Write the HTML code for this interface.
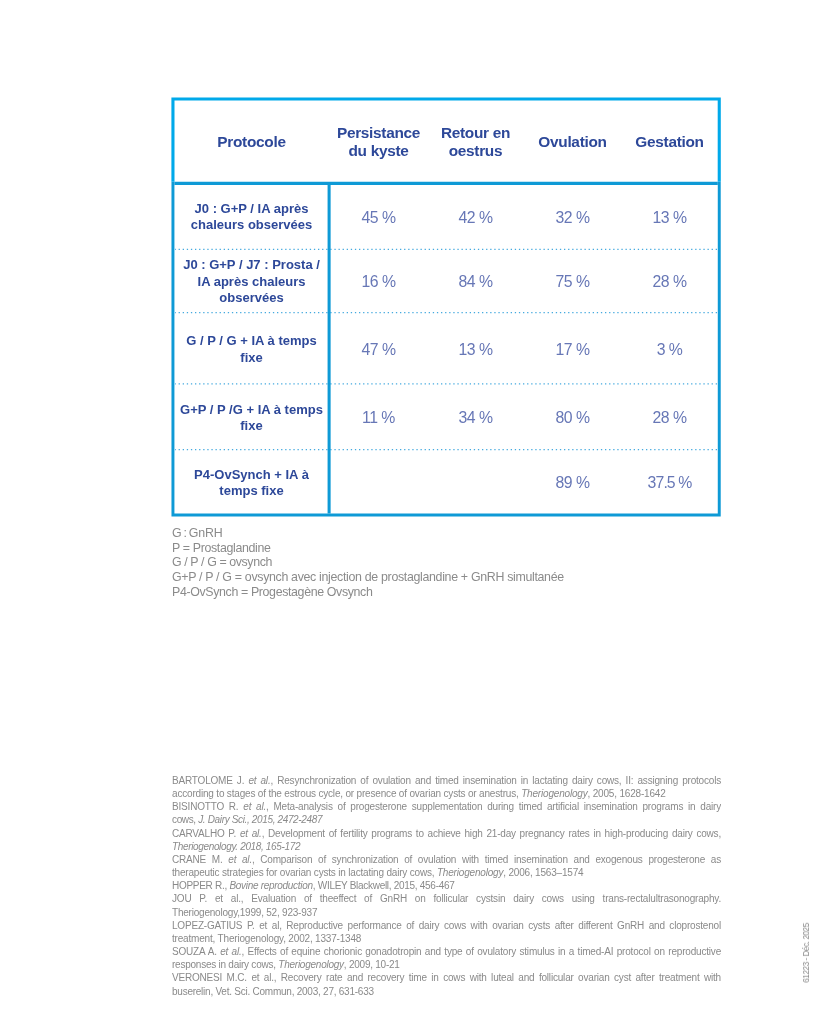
<!DOCTYPE html>
<html><head><meta charset="utf-8">
<style>
html,body{margin:0;padding:0;background:#fff;}
body{width:819px;height:1024px;position:relative;overflow:hidden;font-family:"Liberation Sans",sans-serif;}
.c,.leg,.refs,.side{will-change:transform;}
svg.lines{position:absolute;left:0;top:0;}
.c{position:absolute;display:flex;align-items:center;justify-content:center;text-align:center;}
.h{color:#2d4899;font-weight:bold;font-size:15.4px;line-height:17.5px;letter-spacing:-0.3px;}
.p{color:#2d4899;font-weight:bold;font-size:13px;line-height:16.5px;}
.v{color:#6777b6;font-size:15.8px;letter-spacing:-0.5px;padding-top:2.4px;box-sizing:border-box;}
.leg{position:absolute;left:171.5px;top:526.4px;color:#8b8b8b;font-size:12.4px;line-height:14.7px;white-space:nowrap;}
.refs{position:absolute;left:172px;top:774.2px;width:549px;color:#8a8a8a;font-size:10px;line-height:13.17px;letter-spacing:-0.19px;}
.refs div{white-space:nowrap;}
.refs .j{text-align:justify;text-align-last:justify;white-space:normal;height:13.17px;overflow:hidden;}
.refs i{font-style:italic;}
.side{position:absolute;left:806px;top:953.3px;transform:translate(-50%,-50%) rotate(-90deg);color:#8d8d8d;font-size:8.4px;letter-spacing:-0.55px;white-space:nowrap;}
</style></head><body>
<svg class="lines" width="819" height="1024" viewBox="0 0 819 1024">
  <!-- dotted row separators -->
  <g stroke="#45aadf" stroke-width="1.2" stroke-dasharray="1.3 2.8" stroke-dashoffset="0.5">
    <line x1="175" y1="249.3" x2="718" y2="249.3"/>
    <line x1="175" y1="312.6" x2="718" y2="312.6"/>
    <line x1="175" y1="383.9" x2="718" y2="383.9"/>
    <line x1="175" y1="449.7" x2="718" y2="449.7"/>
  </g>
  <!-- body lines -->
  <path d="M172.95 181.75 V515.05 H719.25 V181.75" stroke="#0e9ad6" stroke-width="2.95" fill="none" stroke-linejoin="miter"/>
  <path d="M174.4 183.35 H717.8 M329.1 184 V513.5" stroke="#0e9ad6" stroke-width="3.05" fill="none"/>
  <!-- header box -->
  <path d="M172.95 181.75 V99.05 H719.25 V181.75" stroke="#00a9ea" stroke-width="3.1" fill="none" stroke-linejoin="miter"/>
</svg>

<!-- header -->
<div class="c h" style="left:175px;top:101px;width:153px;height:81px;">Protocole</div>
<div class="c h" style="left:330px;top:101px;width:97px;height:81px;">Persistance<br>du kyste</div>
<div class="c h" style="left:427px;top:101px;width:97px;height:81px;">Retour en<br>oestrus</div>
<div class="c h" style="left:524px;top:101px;width:97px;height:81px;">Ovulation</div>
<div class="c h" style="left:621px;top:101px;width:97px;height:81px;">Gestation</div>

<!-- row 1 -->
<div class="c p" style="left:175px;top:185px;width:153px;height:64px;">J0 : G+P / IA après<br>chaleurs observées</div>
<div class="c v" style="left:330px;top:185px;width:97px;height:64px;">45 %</div>
<div class="c v" style="left:427px;top:185px;width:97px;height:64px;">42 %</div>
<div class="c v" style="left:524px;top:185px;width:97px;height:64px;">32 %</div>
<div class="c v" style="left:621px;top:185px;width:97px;height:64px;">13 %</div>
<!-- row 2 -->
<div class="c p" style="padding-top:3px;box-sizing:border-box;left:175px;top:249px;width:153px;height:63px;">J0 : G+P / J7 : Prosta /<br>IA après chaleurs<br>observées</div>
<div class="c v" style="left:330px;top:249px;width:97px;height:63px;">16 %</div>
<div class="c v" style="left:427px;top:249px;width:97px;height:63px;">84 %</div>
<div class="c v" style="left:524px;top:249px;width:97px;height:63px;">75 %</div>
<div class="c v" style="left:621px;top:249px;width:97px;height:63px;">28 %</div>
<!-- row 3 -->
<div class="c p" style="padding-top:2px;box-sizing:border-box;left:175px;top:313px;width:153px;height:71px;">G / P / G + IA à temps<br>fixe</div>
<div class="c v" style="left:330px;top:313px;width:97px;height:71px;">47 %</div>
<div class="c v" style="left:427px;top:313px;width:97px;height:71px;">13 %</div>
<div class="c v" style="left:524px;top:313px;width:97px;height:71px;">17 %</div>
<div class="c v" style="left:621px;top:313px;width:97px;height:71px;">3 %</div>
<!-- row 4 -->
<div class="c p" style="padding-top:2px;box-sizing:border-box;left:175px;top:384px;width:153px;height:66px;">G+P / P /G + IA à temps<br>fixe</div>
<div class="c v" style="left:330px;top:384px;width:97px;height:66px;">11 %</div>
<div class="c v" style="left:427px;top:384px;width:97px;height:66px;">34 %</div>
<div class="c v" style="left:524px;top:384px;width:97px;height:66px;">80 %</div>
<div class="c v" style="left:621px;top:384px;width:97px;height:66px;">28 %</div>
<!-- row 5 -->
<div class="c p" style="padding-top:2px;box-sizing:border-box;left:175px;top:450px;width:153px;height:64px;">P4-OvSynch + IA à<br>temps fixe</div>
<div class="c v" style="left:524px;top:450px;width:97px;height:64px;">89 %</div>
<div class="c v" style="left:621px;top:450px;width:97px;height:64px;letter-spacing:-0.9px;">37.5 %</div>

<div class="leg">
<div style="letter-spacing:-0.2px;word-spacing:-1.2px">G : GnRH</div>
<div style="letter-spacing:-0.35px">P = Prostaglandine</div>
<div style="letter-spacing:-0.4px">G / P / G = ovsynch</div>
<div style="letter-spacing:-0.325px">G+P / P / G = ovsynch avec injection de prostaglandine + GnRH simultanée</div>
<div style="letter-spacing:-0.365px">P4-OvSynch = Progestagène Ovsynch</div>
</div>

<div class="refs">
<div class="j">BARTOLOME J. <i>et al.</i>, Resynchronization of ovulation and timed insemination in lactating dairy cows, II: assigning protocols</div>
<div style="letter-spacing:-0.184px">according to stages of the estrous cycle, or presence of ovarian cysts or anestrus, <i>Theriogenology</i>, 2005, 1628-1642</div>
<div class="j">BISINOTTO R. <i>et al.</i>, Meta-analysis of progesterone supplementation during timed artificial insemination programs in dairy</div>
<div style="letter-spacing:-0.354px">cows, <i>J. Dairy Sci., 2015, 2472-2487</i></div>
<div class="j">CARVALHO P. <i>et al.</i>, Development of fertility programs to achieve high 21-day pregnancy rates in high-producing dairy cows,</div>
<div style="letter-spacing:-0.349px"><i>Theriogenology. 2018, 165-172</i></div>
<div class="j">CRANE M. <i>et al.</i>, Comparison of synchronization of ovulation with timed insemination and exogenous progesterone as</div>
<div style="letter-spacing:-0.188px">therapeutic strategies for ovarian cysts in lactating dairy cows, <i>Theriogenology</i>, 2006, 1563–1574</div>
<div style="letter-spacing:-0.291px">HOPPER R., <i>Bovine reproduction</i>, WILEY Blackwell, 2015, 456-467</div>
<div class="j">JOU P. et al., Evaluation of theeffect of GnRH on follicular cystsin dairy cows using trans-rectalultrasonography.</div>
<div style="letter-spacing:-0.215px">Theriogenology,1999, 52, 923-937</div>
<div class="j">LOPEZ-GATIUS P. et al, Reproductive performance of dairy cows with ovarian cysts after different GnRH and cloprostenol</div>
<div style="letter-spacing:-0.185px">treatment, Theriogenology, 2002, 1337-1348</div>
<div class="j">SOUZA A. <i>et al.</i>, Effects of equine chorionic gonadotropin and type of ovulatory stimulus in a timed-AI protocol on reproductive</div>
<div style="letter-spacing:-0.24px">responses in dairy cows, <i>Theriogenology</i>, 2009, 10-21</div>
<div class="j">VERONESI M.C. et al., Recovery rate and recovery time in cows with luteal and follicular ovarian cyst after treatment with</div>
<div style="letter-spacing:-0.242px">buserelin, Vet. Sci. Commun, 2003, 27, 631-633</div>
</div>

<div class="side">61223 - Déc. 2025</div>
</body></html>
